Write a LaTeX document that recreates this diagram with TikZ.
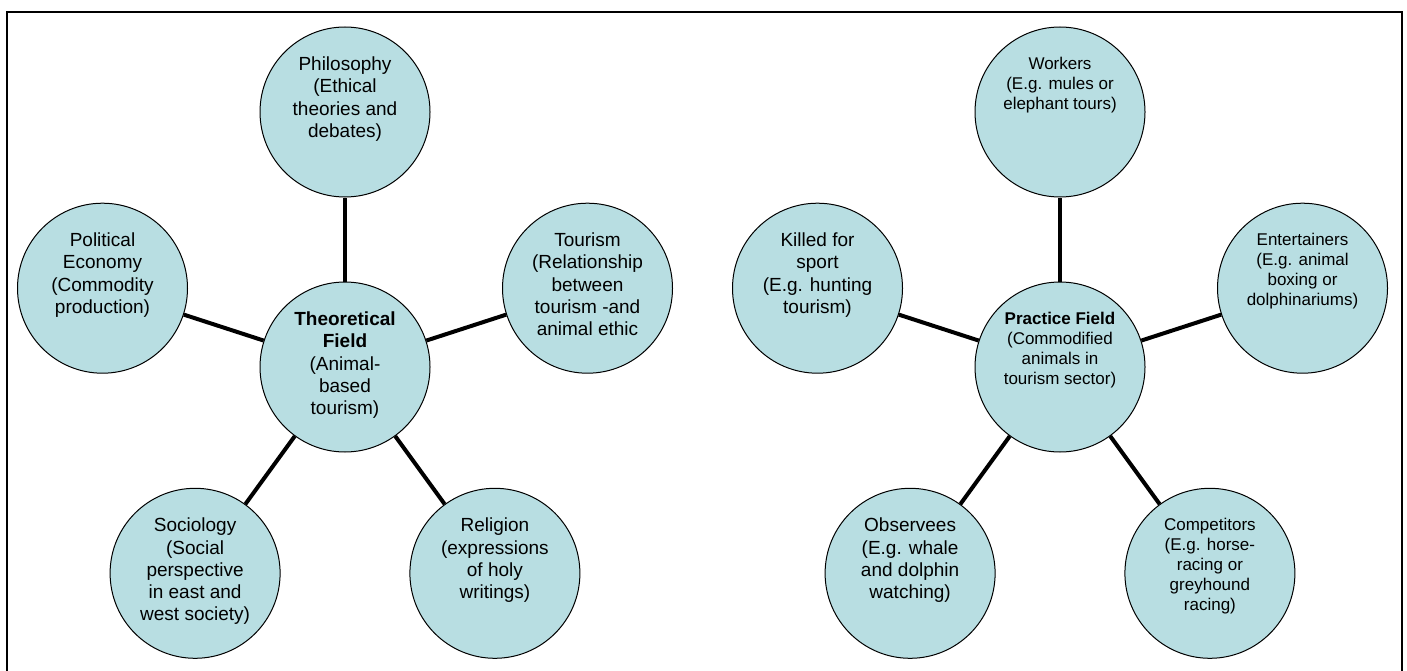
\documentclass[tikz,border=0pt]{standalone}
\usepackage{fontspec}
\setmainfont{Liberation Sans}
\definecolor{bubfill}{RGB}{184,222,226}
\tikzset{
  bub/.style={circle, draw=black, line width=1pt, fill=bubfill, minimum size=170pt, inner sep=0pt},
  conn/.style={draw=black, line width=4pt},
  big/.style={anchor=north, align=center, inner sep=0pt, font=\fontsize{19}{22.3}\selectfont},
  small/.style={anchor=north, align=center, inner sep=0pt, font=\fontsize{17}{20}\selectfont},
  frame/.style={draw=black, line width=2.2pt}
}
\begin{document}
\begin{tikzpicture}[x=1pt,y=-1pt]
\useasboundingbox (0,0) rectangle (1407,671);
\draw[frame] (7,680) -- (7,12) -- (1402,12) -- (1402,680);

% left diagram
\node[bub] (tc) at (345,367) {};
\node[bub] (phil) at (345,112) {};
\node[bub] (pol) at (102.5,288.2) {};
\node[bub] (tour) at (587.5,288.2) {};
\node[bub] (soc) at (195.1,573.3) {};
\node[bub] (rel) at (494.9,573.3) {};
\foreach \n in {phil,pol,tour,soc,rel} \draw[conn] (tc) -- (\n);

\node[big] at ([yshift=-30pt]tc.north) {\textbf{Theoretical}\\\textbf{Field}\\(Animal-\\based\\tourism)};
\node[big] at ([yshift=-30pt]phil.north) {Philosophy\\(Ethical\\theories and\\debates)};
\node[big] at ([yshift=-30pt]pol.north) {Political\\Economy\\(Commodity\\production)};
\node[big] at ([yshift=-30pt]tour.north) {Tourism\\(Relationship\\between\\tourism -and\\animal ethic};
\node[big] at ([yshift=-30pt]soc.north) {Sociology\\(Social\\perspective\\in east and\\west society)};
\node[big] at ([yshift=-30pt]rel.north) {Religion\\(expressions\\of holy\\writings)};

% right diagram
\node[bub] (pc) at (1060,367) {};
\node[bub] (work) at (1060,112) {};
\node[bub] (kill) at (817.5,288.2) {};
\node[bub] (ent) at (1302.5,288.2) {};
\node[bub] (obs) at (910.1,573.3) {};
\node[bub] (comp) at (1209.9,573.3) {};
\foreach \n in {work,kill,ent,obs,comp} \draw[conn] (pc) -- (\n);

\node[small] at ([yshift=-30pt]pc.north) {\textbf{Practice Field}\\(Commodified\\animals in\\tourism sector)};
\node[small] at ([yshift=-30pt]work.north) {Workers\\(E.g. mules or\\elephant tours)};
\node[big] at ([yshift=-30pt]kill.north) {Killed for\\sport\\(E.g. hunting\\tourism)};
\node[small] at ([yshift=-30pt]ent.north) {Entertainers\\(E.g. animal\\boxing or\\dolphinariums)};
\node[big] at ([yshift=-30pt]obs.north) {Observees\\(E.g. whale\\and dolphin\\watching)};
\node[small] at ([yshift=-30pt]comp.north) {Competitors\\(E.g. horse-\\racing or\\greyhound\\racing)};
\end{tikzpicture}
\end{document}
